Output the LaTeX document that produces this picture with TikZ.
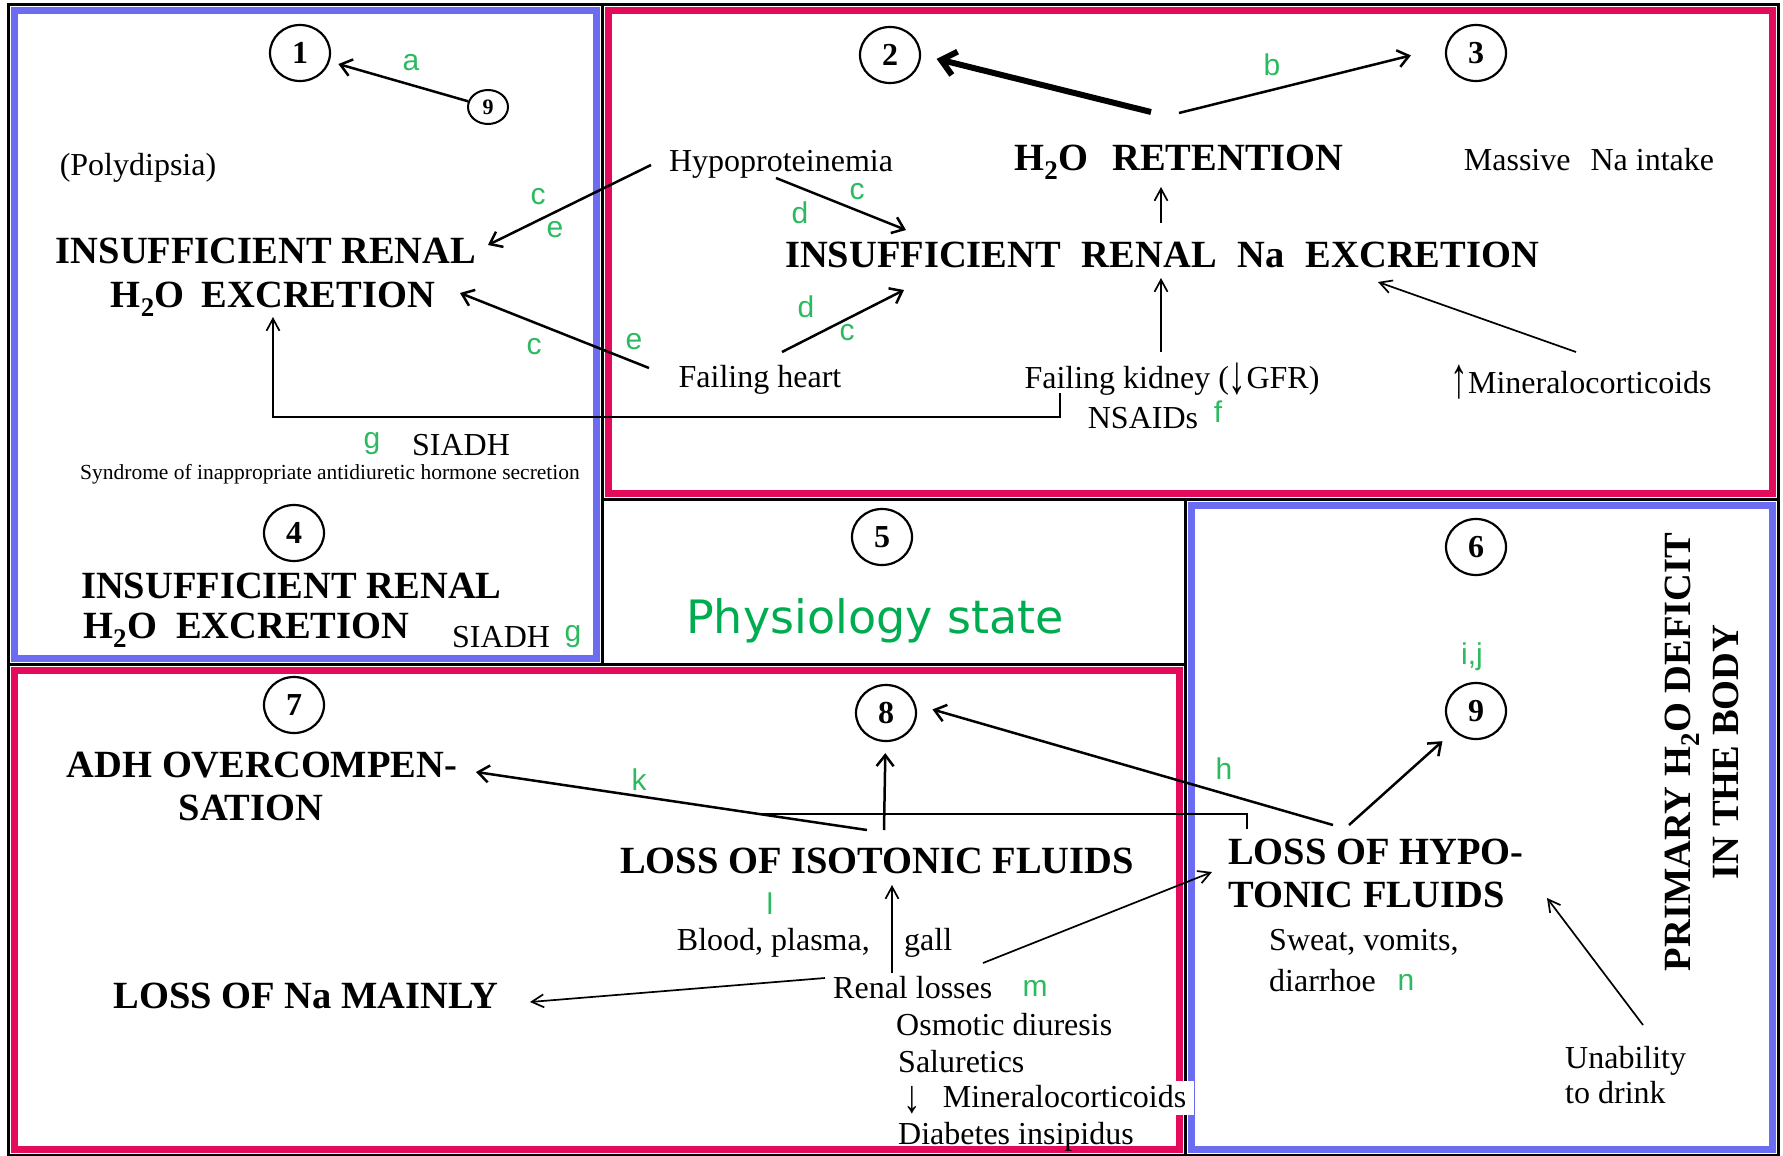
\documentclass[tikz,border=0pt]{standalone}
\usepackage{graphicx}
\usepackage{fontspec}
\setmainfont{Liberation Serif}
\newfontfamily\labfont{Liberation Sans}
\newfontfamily\physfont{DejaVu Sans}
\usetikzlibrary{arrows.meta,shapes.geometric,calc}
\definecolor{boxblue}{RGB}{108,108,242}
\definecolor{boxred}{RGB}{228,10,92}
\definecolor{labgreen}{RGB}{44,186,96}
\definecolor{physgreen}{RGB}{0,172,80}
\newcommand{\tallup}{\raisebox{-4pt}{\scalebox{1.1}[1.8]{↑}}}
\newcommand{\talldown}{\raisebox{-5pt}{\scalebox{1.1}[1.7]{↓}}}
\newcommand{\lowdown}{\raisebox{-5pt}{\scalebox{1.1}[1.45]{↓}}}
\tikzset{
 frameline/.style={line width=3pt},
 blueband/.style={draw=boxblue, line width=7pt},
 redband/.style={draw=boxred, line width=7pt},
 circ/.style={ellipse, draw, line width=2.2pt, minimum width=60pt, minimum height=56pt, inner sep=0pt, font=\fontsize{32}{32}\selectfont\bfseries},
 smallcirc/.style={ellipse, draw, line width=2pt, minimum width=40pt, minimum height=34pt, inner sep=0pt, font=\fontsize{22}{22}\selectfont\bfseries},
 hb/.style={inner sep=0pt, font=\fontsize{38.5}{44}\selectfont\bfseries},
 tx/.style={inner sep=0pt, font=\fontsize{32}{36}\selectfont},
 lab/.style={inner sep=0pt, text=labgreen, font=\labfont\fontsize{30}{30}\selectfont},
 arr/.style={line width=2.5pt, -{Straight Barb[length=11pt,width=17pt]}},
 arrthin/.style={line width=1.7pt, -{Straight Barb[length=12pt,width=13pt]}},
 arrthick/.style={line width=6pt, -{Straight Barb[length=14pt,width=24pt]}},
 plainline/.style={line width=2pt},
}
\begin{document}
\begin{tikzpicture}[x=1pt,y=-1pt]
\useasboundingbox (0,0) rectangle (1783,1156);
\fill[white] (0,0) rectangle (1783,1156);
% frames
\draw[blueband] (14,11) rectangle (596,658);
\draw[redband] (608,11) rectangle (1772,493);
\draw[blueband] (1191,505) rectangle (1772,1149);
\draw[redband] (14,670) rectangle (1179,1149);
\draw[frameline] (8,5) rectangle (602,664);
\draw[frameline] (602,5) rectangle (1778,499);
\draw[frameline] (602,499) rectangle (1185,664);
\draw[frameline] (1185,499) rectangle (1778,1155);
\draw[frameline] (8,664) rectangle (1185,1155);

% region 1
\node[circ] (n1) at (300,53) {1};
\node[smallcirc] (n9a) at (488,107) {9};
\node[tx, anchor=base] (poly) at (138,175) {(Polydipsia)};
\node[hb, anchor=base] (ir1a) at (266,263) {INSUFFICIENT RENAL};
\node[hb, anchor=base] (ir1b) at (273,307) {H\textsubscript{2}O\hspace{17pt}EXCRETION};
\node[tx, anchor=base] (siadh1) at (461,455) {SIADH};
\node[inner sep=0pt, font=\fontsize{21.5}{24}\selectfont, anchor=base] (synd) at (330,479) {Syndrome of inappropriate antidiuretic hormone secretion};

% region 2/3
\node[circ] (n2) at (890,55) {2};
\node[circ] (n3) at (1476,53) {3};
\node[hb, anchor=base] (ret) at (1179,170) {H\textsubscript{2}O\hspace{24pt}RETENTION};
\node[tx, anchor=base] (hypo) at (781,171) {Hypoproteinemia};
\node[tx, anchor=base] (mass) at (1589,170) {Massive\hspace{20pt}Na intake};
\node[hb, anchor=base] (nax) at (1162,267) {INSUFFICIENT\hspace{21pt}RENAL\hspace{21pt}Na\hspace{21pt}EXCRETION};
\node[tx, anchor=base] (fh) at (760,387) {Failing heart};
\node[tx, anchor=base] (fk) at (1172,388) {Failing kidney (\talldown GFR)};
\node[tx, anchor=base] (nsaid) at (1143,428) {NSAIDs};
\node[tx, anchor=base] (minc) at (1581,393) {\tallup Mineralocorticoids};

% region 4
\node[circ] (n4) at (294,533) {4};
\node[hb, anchor=base west] (ir4a) at (81,598) {INSUFFICIENT RENAL};
\node[hb, anchor=base west] (ir4b) at (83,638) {H\textsubscript{2}O\hspace{19pt}EXCRETION};
\node[tx, anchor=base west] (siadh2) at (452,647) {SIADH};

% region 5
\node[circ] (n5) at (882,537) {5};
\node[inner sep=0pt, text=physgreen, font=\physfont\fontsize{46}{50}\selectfont, anchor=base] (phys) at (875,633) {Physiology state};

% region 6
\node[circ] (n6) at (1476,547) {6};
\node[circ] (n9) at (1476,711) {9};
\node[hb, anchor=base west] (hypA) at (1228,864) {LOSS OF HYPO-};
\node[hb, anchor=base west] (hypB) at (1228,907) {TONIC FLUIDS};
\node[tx, anchor=base west] (sweat) at (1269,950) {Sweat, vomits,};
\node[tx, anchor=base west] (diar) at (1269,991) {diarrhoe};
\node[tx, anchor=base west] (unab) at (1565,1068) {Unability};
\node[tx, anchor=base west] (drink) at (1565,1103) {to drink};
\node[inner sep=0pt, font=\fontsize{38.5}{48}\selectfont\bfseries, rotate=90, align=center] (prim) at (1702,752) {PRIMARY H\textsubscript{2}O DEFICIT\\IN THE BODY};

% region 7/8
\node[circ] (n7) at (294,705) {7};
\node[hb, anchor=base] (adhA) at (262,777) {ADH OVERCOMPEN-};
\node[hb, anchor=base] (adhB) at (251,820) {SATION};
\node[hb, anchor=base] (lossna) at (306,1008) {LOSS OF Na MAINLY};
\node[circ] (n8) at (886,713) {8};
\node[hb, anchor=base] (iso) at (877,873) {LOSS OF ISOTONIC FLUIDS};
\node[tx, anchor=base east] (blood) at (870,950) {Blood, plasma,};
\node[tx, anchor=base west] (gall) at (904,950) {gall};
\node[tx, anchor=base west] (renal) at (833,998) {Renal losses};
\node[tx, anchor=base west] (osm) at (896,1035) {Osmotic diuresis};
\node[tx, anchor=base west] (salu) at (898,1072) {Saluretics};
\node[tx, anchor=base west, fill=white, inner xsep=8pt, inner ysep=2pt, text height=24pt, text depth=6pt] (minr) at (895,1107) {\lowdown\hspace{22pt}Mineralocorticoids};
\node[tx, anchor=base west] (diab) at (898,1144) {Diabetes insipidus};

% green labels
\node[lab] (la) at (411,63) {a};
\node[lab] (lb) at (1272,65) {b};
\node[lab] (lc1) at (538,197) {c};
\node[lab] (le1) at (555,230) {e};
\node[lab] (lc2) at (857,192) {c};
\node[lab] (ld1) at (800,213) {d};
\node[lab] (ld2) at (806,307) {d};
\node[lab] (lc3) at (847,333) {c};
\node[lab] (le2) at (634,342) {e};
\node[lab] (lc4) at (534,347) {c};
\node[lab] (lf) at (1218,412) {f};
\node[lab] (lg1) at (372,444) {g};
\node[lab] (lg2) at (573,637) {g};
\node[lab] (lij) at (1472,657) {i,j};
\node[lab] (lh) at (1224,769) {h};
\node[lab] (lk) at (639,780) {k};
\node[lab] (ll) at (770,904) {l};
\node[lab] (lm) at (1035,988) {m};
\node[lab] (ln) at (1406,982) {n};

% connector ends
\coordinate (retL) at (1151,112);
\coordinate (retR) at (1179,113);
\coordinate (naxT) at (1161,223);
\coordinate (retB) at (1161,187);
\coordinate (fkT) at (1161,352);
\coordinate (naxB) at (1161,278);
\coordinate (hypoR) at (776,178);
\coordinate (naxL1) at (906,230);
\coordinate (fhR) at (782,352);
\coordinate (naxL2) at (904,290);
\coordinate (hypoL) at (651,165);
\coordinate (ir1R1) at (488,245);
\coordinate (fhL) at (649,368);
\coordinate (ir1R2) at (460,293);
\coordinate (fkB) at (1060,393);
\coordinate (ir1B) at (273,317);
\coordinate (minT) at (1576,352);
\coordinate (naxR) at (1378,282);
\coordinate (isoT) at (884,830);
\coordinate (isoL) at (867,830);
\coordinate (adhR) at (476,772);
\coordinate (hypTL) at (1247,829);
\coordinate (kj) at (756,813.5);
\coordinate (hypT1) at (1333,825);
\coordinate (hypT2) at (1349,825);
\coordinate (renR) at (983,963);
\coordinate (hypL) at (1212,872);
\coordinate (unT) at (1643,1025);
\coordinate (hypR) at (1547,898);
\coordinate (renT) at (892,973);
\coordinate (isoB) at (892,885);
\coordinate (renL) at (825,978);
\coordinate (lossR) at (530,1002);

% connectors
\draw[arr, shorten >=9pt] (n9a) -- (n1);
\draw[arrthick, shorten >=16pt] (retL) -- (n2.east);
\draw[arr, shorten >=35pt] (retR) -- ($(n3.west)+(0,-6)$);
\draw[arrthin] (naxT) -- (retB);
\draw[arrthin] (fkT) -- (naxB);
\draw[arr] (hypoR) -- (naxL1);
\draw[arr] (fhR) -- (naxL2);
\draw[arr] (hypoL) -- (ir1R1);
\draw[arr] (fhL) -- (ir1R2);
\draw[arrthin] (fkB) -- ++(0,24) -| (ir1B);
\draw[arrthin] (minT) -- (naxR);
\draw[arr, shorten >=11pt] (isoT) -- (n8);
\draw[arr] (isoL) -- (adhR);
\draw[plainline] (hypTL) -- (hypTL |- kj) -- (kj);
\draw[arr, shorten >=16pt] (hypT1) -- ($(n8.east)+(0,-8)$);
\draw[arr, shorten >=15pt] (hypT2) -- (n9);
\draw[arrthin] (renR) -- (hypL);
\draw[arrthin] (unT) -- (hypR);
\draw[arrthin] (renT) -- (isoB);
\draw[arrthin] (renL) -- (lossR);
\end{tikzpicture}
\end{document}
